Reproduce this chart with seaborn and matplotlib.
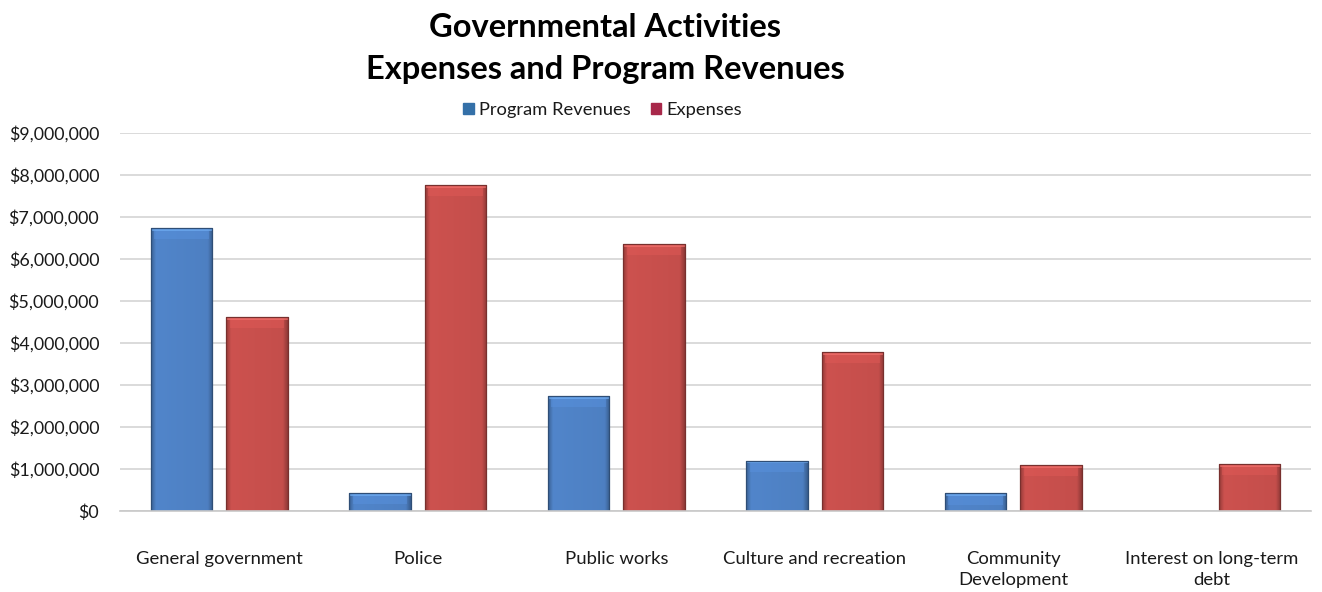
import numpy as np
import pandas as pd
import matplotlib
matplotlib.use("Agg")
import matplotlib.pyplot as plt
import matplotlib.colors as mcolors
from matplotlib.patches import Patch
from matplotlib.ticker import FuncFormatter, MultipleLocator
import seaborn as sns

categories = ["General government", "Police", "Public works",
              "Culture and recreation", "Community\nDevelopment",
              "Interest on long-term\ndebt"]
program_revenues = [6740000, 430000, 2740000, 1200000, 420000, 0]
expenses = [4620000, 7760000, 6360000, 3790000, 1100000, 1120000]
series_names = ["Program Revenues", "Expenses"]
series_colors = {"Program Revenues": "#3b7fd9", "Expenses": "#dc3c38"}

df = pd.DataFrame({
    "category": categories * 2,
    "series": [series_names[0]] * len(categories) + [series_names[1]] * len(categories),
    "value": program_revenues + expenses,
})

sns.set_theme(style="white")
plt.rcParams["font.family"] = ["Lato", "DejaVu Sans"]

fig = plt.figure(figsize=(13.22, 5.92), dpi=100)
ax = fig.add_axes([0.0908, 0.1368, 0.9009, 0.6385])

sns.barplot(data=df, x="category", y="value", hue="series",
            palette=series_colors, width=0.76, gap=0.18,
            order=categories, hue_order=series_names,
            linewidth=0, legend=False, ax=ax)


def shade(base, n=80):
    """Mostly flat fill with darker beveled side edges."""
    rgb = np.array(mcolors.to_rgb(base))
    xs = np.linspace(0, 1, n)
    edge = np.minimum(xs, 1 - xs)
    f = np.clip(edge / 0.08, 0, 1)
    factor = 0.74 + 0.26 * f
    factor = factor * (1.03 - 0.05 * xs)
    cols = np.clip(rgb[None, :] * factor[:, None], 0, 1)
    return cols[None, :, :]


for patch in ax.patches:
    h = patch.get_height()
    if h <= 0:
        continue
    x0 = patch.get_x()
    w = patch.get_width()
    fc = patch.get_facecolor()
    img = ax.imshow(shade(fc[:3]), extent=[x0, x0 + w, 0, h],
                    aspect="auto", zorder=patch.get_zorder() + 0.1,
                    interpolation="bilinear")
    img.set_clip_path(patch)
    # beveled top: light strip at the very top, soft band beneath it
    rgb = np.array(fc[:3])
    band = min(9000000 * 0.03, h)
    ax.fill_between([x0 + w * 0.06, x0 + w * 0.94], h - band, h - band * 0.25,
                    color=np.clip(rgb * 1.12, 0, 1), alpha=0.5, lw=0,
                    zorder=patch.get_zorder() + 0.2)
    ax.fill_between([x0, x0 + w], h - band * 0.25, h,
                    color=np.clip(rgb * 1.25 + 0.08, 0, 1), alpha=0.6, lw=0,
                    zorder=patch.get_zorder() + 0.2)
    ax.plot([x0, x0, x0 + w, x0 + w], [0, h, h, 0],
            color=tuple(rgb * 0.6), lw=0.9, zorder=patch.get_zorder() + 0.3)

ax.set_xlim(-0.5, len(categories) - 0.5)
ax.set_ylim(0, 9000000)
ax.yaxis.set_major_locator(MultipleLocator(1000000))
ax.yaxis.set_major_formatter(FuncFormatter(lambda v, p: f"${v:,.0f}"))
ax.grid(axis="y", color="#d4d4d4", linewidth=1.2)
ax.set_axisbelow(True)
for s in ["top", "right", "left"]:
    ax.spines[s].set_visible(False)
ax.spines["bottom"].set_color("#c8c8c8")
ax.spines["bottom"].set_linewidth(1.2)
ax.tick_params(axis="y", length=0, pad=15, labelsize=12.9, labelcolor="#1a1a1a")
ax.tick_params(axis="x", length=0, pad=29, labelsize=13.3, labelcolor="#1a1a1a")
ax.set_xticks(range(len(categories)))
ax.set_xticklabels(categories, linespacing=1.4)
ax.set_xlabel("")
ax.set_ylabel("")

fig.text(0.458, 0.953, "Governmental Activities", ha="center", va="center",
         fontsize=23.5, fontweight="bold", color="#000000")
fig.text(0.458, 0.883, "Expenses and Program Revenues", ha="center", va="center",
         fontsize=23.5, fontweight="bold", color="#000000")

handles = [Patch(facecolor="#3470a8", edgecolor="#3470a8"),
           Patch(facecolor="#a8284a", edgecolor="#a8284a")]
fig.legend(handles, series_names, loc="center", bbox_to_anchor=(0.456, 0.815),
           ncol=2, frameon=False, fontsize=13.2, handlelength=0.55, handleheight=0.55,
           handletextpad=0.3, columnspacing=1.1, labelcolor="#1a1a1a")

fig.savefig("out.png", dpi=100)
